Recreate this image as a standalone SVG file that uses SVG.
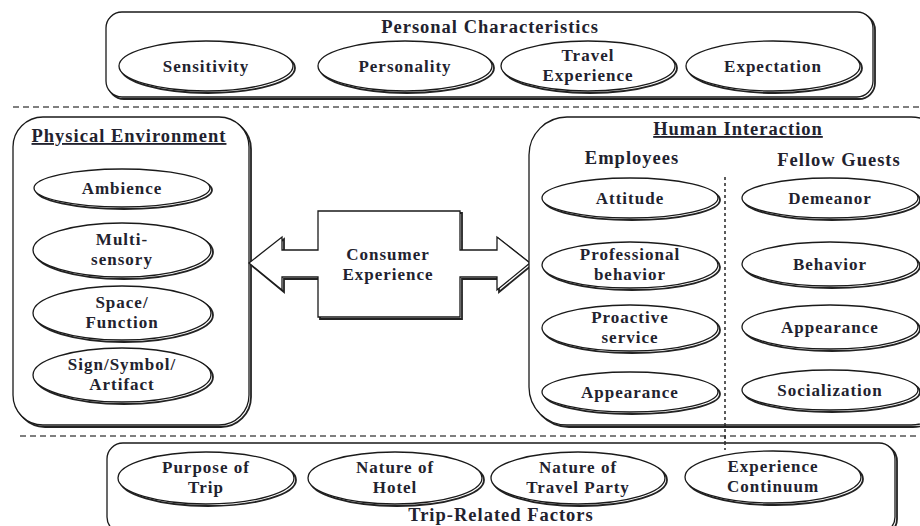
<svg xmlns="http://www.w3.org/2000/svg" width="920" height="526" viewBox="0 0 920 526">
<style>
.sh{fill:none;stroke:#222;stroke-width:1.8}
.bx{fill:#fff;stroke:#1a1a1a;stroke-width:1.3}
.t{font-family:"Liberation Serif","Times New Roman",serif;font-weight:bold;font-size:17px;letter-spacing:1px;fill:#22222e;text-anchor:middle}
.h{font-size:18.5px}
.u{text-decoration:underline}
.dash{stroke:#555;stroke-width:1.3;stroke-dasharray:6 4;fill:none}
.dot{stroke:#333;stroke-width:1.6;stroke-dasharray:3 3;fill:none}
</style>
<rect width="920" height="526" fill="#fff"/>

<g id="connectors">
<line class="dash" x1="13" y1="107" x2="920" y2="107"/>
<line class="dash" x1="20" y1="436" x2="920" y2="436"/>
<line class="dot" x1="725" y1="177" x2="725" y2="450"/>
</g>

<g id="personal">
<rect class="sh" x="108" y="14" width="767" height="85" rx="16"/>
<rect class="bx" x="106" y="12" width="767" height="85" rx="16"/>
<text class="t h" x="490" y="33">Personal Characteristics</text>
</g>
<g id="sensitivity"><ellipse class="sh" cx="208" cy="68" rx="87" ry="25"/><ellipse class="bx" cx="206" cy="66" rx="87" ry="25"/><text class="t" x="206" y="72">Sensitivity</text></g>
<g id="personality"><ellipse class="sh" cx="407" cy="68" rx="87" ry="25"/><ellipse class="bx" cx="405" cy="66" rx="87" ry="25"/><text class="t" x="405" y="72">Personality</text></g>
<g id="travel-experience"><ellipse class="sh" cx="590" cy="68" rx="87" ry="25"/><ellipse class="bx" cx="588" cy="66" rx="87" ry="25"/><text class="t" x="588" y="61">Travel</text><text class="t" x="588" y="81">Experience</text></g>
<g id="expectation"><ellipse class="sh" cx="775" cy="68" rx="87" ry="25"/><ellipse class="bx" cx="773" cy="66" rx="87" ry="25"/><text class="t" x="773" y="72">Expectation</text></g>

<g id="physical">
<rect class="sh" x="15" y="119" width="236" height="308" rx="30"/>
<rect class="bx" x="13" y="117" width="236" height="308" rx="30"/>
<text class="t h u" x="129" y="142">Physical Environment</text>
</g>
<g id="ambience"><ellipse class="sh" cx="124" cy="190" rx="88" ry="19"/><ellipse class="bx" cx="122" cy="188" rx="88" ry="19"/><text class="t" x="122" y="194">Ambience</text></g>
<g id="multisensory"><ellipse class="sh" cx="124" cy="252" rx="89" ry="27"/><ellipse class="bx" cx="122" cy="250" rx="89" ry="27"/><text class="t" x="122" y="245">Multi-</text><text class="t" x="122" y="265">sensory</text></g>
<g id="space-function"><ellipse class="sh" cx="124" cy="315" rx="89" ry="27"/><ellipse class="bx" cx="122" cy="313" rx="89" ry="27"/><text class="t" x="122" y="308">Space/</text><text class="t" x="122" y="328">Function</text></g>
<g id="sign-symbol"><ellipse class="sh" cx="124" cy="377" rx="89" ry="27"/><ellipse class="bx" cx="122" cy="375" rx="89" ry="27"/><text class="t" x="122" y="370">Sign/Symbol/</text><text class="t" x="122" y="390">Artifact</text></g>

<g id="consumer-experience">
<polygon class="sh" transform="translate(2,2)" points="249,263 282,237 282,250 318,250 318,211 460,211 460,250 497,250 497,237 530,263 497,290 497,277 460,277 460,317 318,317 318,277 282,277 282,290"/>
<polygon class="bx" points="249,263 282,237 282,250 318,250 318,211 460,211 460,250 497,250 497,237 530,263 497,290 497,277 460,277 460,317 318,317 318,277 282,277 282,290"/>
<text class="t" x="388" y="260">Consumer</text>
<text class="t" x="388" y="280">Experience</text>
</g>

<g id="human">
<rect class="sh" x="531" y="119" width="420" height="308" rx="38"/>
<rect class="bx" x="529" y="117" width="420" height="308" rx="38"/>
<text class="t h u" x="738" y="135">Human Interaction</text>
<text class="t h" x="632" y="164">Employees</text>
<text class="t h" x="839" y="166">Fellow Guests</text>
<line class="dot" x1="725" y1="177" x2="725" y2="425"/>
</g>
<g id="attitude"><ellipse class="sh" cx="632" cy="200" rx="88" ry="20"/><ellipse class="bx" cx="630" cy="198" rx="88" ry="20"/><text class="t" x="630" y="204">Attitude</text></g>
<g id="professional"><ellipse class="sh" cx="632" cy="267" rx="88" ry="23"/><ellipse class="bx" cx="630" cy="265" rx="88" ry="23"/><text class="t" x="630" y="260">Professional</text><text class="t" x="630" y="280">behavior</text></g>
<g id="proactive"><ellipse class="sh" cx="632" cy="330" rx="88" ry="23"/><ellipse class="bx" cx="630" cy="328" rx="88" ry="23"/><text class="t" x="630" y="323">Proactive</text><text class="t" x="630" y="343">service</text></g>
<g id="appearance-emp"><ellipse class="sh" cx="632" cy="394" rx="88" ry="20"/><ellipse class="bx" cx="630" cy="392" rx="88" ry="20"/><text class="t" x="630" y="398">Appearance</text></g>
<g id="demeanor"><ellipse class="sh" cx="832" cy="200" rx="88" ry="20"/><ellipse class="bx" cx="830" cy="198" rx="88" ry="20"/><text class="t" x="830" y="204">Demeanor</text></g>
<g id="behavior"><ellipse class="sh" cx="832" cy="266" rx="88" ry="22"/><ellipse class="bx" cx="830" cy="264" rx="88" ry="22"/><text class="t" x="830" y="270">Behavior</text></g>
<g id="appearance-guest"><ellipse class="sh" cx="832" cy="329" rx="88" ry="22"/><ellipse class="bx" cx="830" cy="327" rx="88" ry="22"/><text class="t" x="830" y="333">Appearance</text></g>
<g id="socialization"><ellipse class="sh" cx="832" cy="392" rx="88" ry="20"/><ellipse class="bx" cx="830" cy="390" rx="88" ry="20"/><text class="t" x="830" y="396">Socialization</text></g>

<g id="trip">
<rect class="sh" x="109" y="445" width="788" height="90" rx="16"/>
<rect class="bx" x="107" y="443" width="788" height="90" rx="16"/>
<line class="dot" x1="725" y1="436" x2="725" y2="450"/>
<text class="t h" x="501" y="521">Trip-Related Factors</text>
</g>
<g id="purpose"><ellipse class="sh" cx="208" cy="480" rx="88" ry="26"/><ellipse class="bx" cx="206" cy="478" rx="88" ry="26"/><text class="t" x="206" y="473">Purpose of</text><text class="t" x="206" y="493">Trip</text></g>
<g id="nature-hotel"><ellipse class="sh" cx="397" cy="480" rx="87" ry="26"/><ellipse class="bx" cx="395" cy="478" rx="87" ry="26"/><text class="t" x="395" y="473">Nature of</text><text class="t" x="395" y="493">Hotel</text></g>
<g id="nature-party"><ellipse class="sh" cx="580" cy="480" rx="87" ry="26"/><ellipse class="bx" cx="578" cy="478" rx="87" ry="26"/><text class="t" x="578" y="473">Nature of</text><text class="t" x="578" y="493">Travel Party</text></g>
<g id="continuum"><ellipse class="sh" cx="775" cy="479" rx="88" ry="26"/><ellipse class="bx" cx="773" cy="477" rx="88" ry="26"/><text class="t" x="773" y="472">Experience</text><text class="t" x="773" y="492">Continuum</text></g>
</svg>
